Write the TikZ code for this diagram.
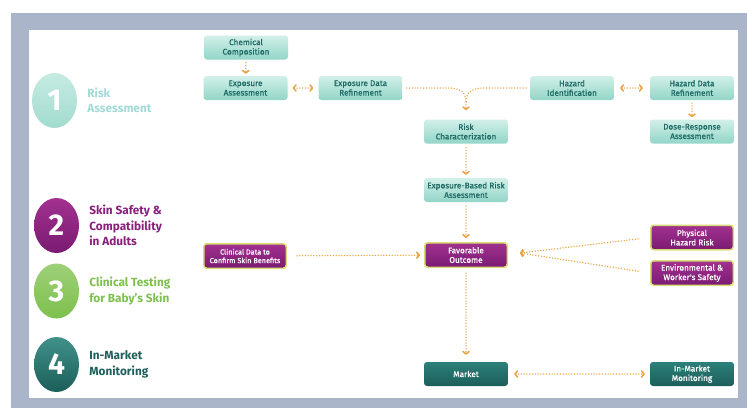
\documentclass[tikz,border=0pt]{standalone}
\usepackage{fontspec}
\setmainfont{Fira Sans}
\newfontfamily\boxfont{Fira Sans}[BoldFont=*, BoldFeatures={FakeBold=0.8}]
\usetikzlibrary{arrows.meta,positioning,shapes.geometric}
\definecolor{frame}{HTML}{AAB5C9}
\definecolor{tealtop}{HTML}{D2F0E9}
\definecolor{tealbot}{HTML}{92D5C7}
\definecolor{tealtext}{HTML}{1E6B65}
\definecolor{purtop}{HTML}{A2318F}
\definecolor{purbot}{HTML}{7A1B72}
\definecolor{purborder}{HTML}{D8DC74}
\definecolor{darktop}{HTML}{2C807A}
\definecolor{darkbot}{HTML}{1C5E5A}
\definecolor{arrowc}{HTML}{E9A23F}
\definecolor{lblone}{HTML}{A2DAD6}
\definecolor{lbltwo}{HTML}{8A1F7C}
\definecolor{lblthree}{HTML}{7DC04C}
\definecolor{lblfour}{HTML}{1E5F5C}
\tikzset{
  box/.style={rounded corners=3pt, minimum width=84pt, minimum height=24pt,
    inner sep=1pt, align=center, font=\boxfont\bfseries\fontsize{8.2}{9.5}\selectfont},
  tealbox/.style={box, top color=tealtop, bottom color=tealbot, text=tealtext},
  purplebox/.style={box, minimum width=82.5pt, minimum height=24.5pt,
    top color=purtop, bottom color=purbot, draw=purborder, line width=1.5pt, text=white},
  darkbox/.style={box, top color=darktop, bottom color=darkbot, text=white},
  dotline/.style={draw=arrowc, line width=1.5pt, line cap=round, dash pattern=on 0pt off 2.8pt},
  flow/.style={dotline, -{Straight Barb[round,length=2.5pt,width=6pt]}},
  twoway/.style={dotline, {Straight Barb[round,length=2.5pt,width=6pt]}-{Straight Barb[round,length=2.5pt,width=6pt]}},
  num/.style={ellipse, minimum width=45pt, minimum height=55pt, inner sep=0pt,
    text=white, font=\fontsize{30}{30}\selectfont\bfseries},
  lbl/.style={right=10pt of #1, align=left, inner sep=0pt,
    font=\fontsize{11.8}{15.5}\selectfont\bfseries}
}
\begin{document}
\begin{tikzpicture}[x=1pt,y=-1pt]
% frame
\useasboundingbox (0,0) rectangle (747,408);
\fill[white] (0,0) rectangle (747,408);
\fill[frame] (11,13) rectangle (747,408);
\fill[white] (29,30) rectangle (738,398);
% steps
\node[num, top color=tealtop!80!tealbot, bottom color=tealbot!85] (c1) at (54.5,100.5) {1};
\node[num, top color=purtop, bottom color=purbot] (c2) at (56.5,225.5) {2};
\node[num, top color=lblthree!75!white, bottom color=lblthree] (c3) at (56.5,291) {3};
\node[num, top color=darktop!80!tealbot, bottom color=darkbot] (c4) at (56.5,364.5) {4};
\node[lbl=c1, text=lblone] (l1) {Risk\\Assessment};
\node[lbl=c2, text=lbltwo] (l2) {Skin Safety \&\\Compatibility\\in Adults};
\node[lbl=c3, text=lblthree] (l3) {Clinical Testing\\for Baby's Skin};
\node[lbl=c4, text=lblfour] (l4) {In-Market\\Monitoring};
% risk assessment
\node[tealbox] (chem) at (246,47.5) {Chemical\\Composition};
\node[tealbox] (expa) at (245.5,88) {Exposure\\Assessment};
\node[tealbox] (expr) at (360.5,88) {Exposure Data\\Refinement};
\node[tealbox] (hazid) at (572,88) {Hazard\\Identification};
\node[tealbox] (hazr) at (692,88) {Hazard Data\\Refinement};
\node[tealbox] (risk) at (466,131.5) {Risk\\Characterization};
\node[tealbox] (dose) at (692,131.5) {Dose-Response\\Assessment};
\node[tealbox] (ebra) at (466,190) {Exposure-Based Risk\\Assessment};
% safety
\node[purplebox] (fav) at (466,255) {Favorable\\Outcome};
\node[purplebox, font=\boxfont\bfseries\fontsize{7.3}{8.6}\selectfont] (clin) at (245,256) {Clinical Data to\\Confirm Skin Benefits};
\node[purplebox] (phys) at (692,237.5) {Physical\\Hazard Risk};
\node[purplebox] (env) at (692,273) {Environmental \&\\Worker's Safety};
% market
\node[darkbox] (market) at (466,374) {Market};
\node[darkbox] (inmkt) at (692,374) {In-Market\\Monitoring};
% connectors
\coordinate (mergeL) at (448,88);
\coordinate (mergeR) at (484,88);
\coordinate (merge) at (466,102);
\coordinate (favin) at (520,253);
\draw[flow, shorten <=3pt, shorten >=2pt] (chem) -- (expa);
\draw[twoway, shorten <=5pt, shorten >=5pt] (expa) -- (expr);
\draw[twoway, shorten <=6pt, shorten >=7pt] (hazid) -- (hazr);
\draw[flow, shorten <=3pt, shorten >=2pt] (hazr) -- (dose);
\draw[dotline, shorten <=4pt] (expr.east) -- (mergeL) .. controls (460,88) and (466,92) .. (merge);
\draw[dotline, shorten <=4pt] (hazid.west) -- (mergeR) .. controls (472,88) and (466,92) .. (merge);
\draw[flow, shorten >=9pt] (merge) -- (risk.north);
\draw[flow, shorten <=4pt, shorten >=3pt] (risk) -- (ebra);
\draw[flow, shorten <=4pt, shorten >=4pt] (ebra) -- (fav);
\draw[flow, shorten <=10pt, shorten >=4pt] (clin) -- (fav);
\draw[flow, shorten <=12pt] (phys.west) -- (favin);
\draw[flow, shorten <=12pt] (env.west) -- (favin);
\draw[flow, shorten <=5pt, shorten >=7pt] (fav) -- (market);
\draw[twoway, shorten <=6pt, shorten >=5pt] (market) -- (inmkt);
\end{tikzpicture}
\end{document}
